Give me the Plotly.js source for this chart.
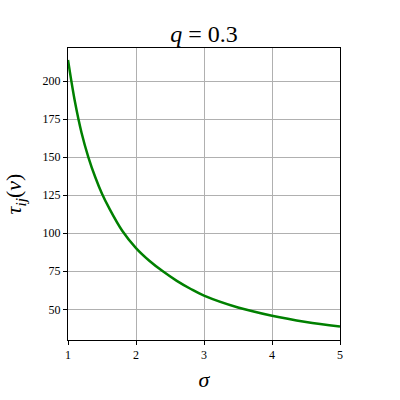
<!DOCTYPE html>
<html>
<head>
<meta charset="utf-8">
<script src="https://cdn.plot.ly/plotly-3.0.1.min.js"></script>
<style>
  body { margin: 0; background: #fff; }
  #plot { width: 400px; height: 400px; }
</style>
</head>
<body>
<div id="plot"></div>
<script>
// values
let sigma = [1.0, 1.1, 1.2, 1.3, 1.4, 1.5, 1.6, 1.8, 2.0, 2.2, 2.4, 2.6, 2.8, 3.0, 3.5, 4.0, 4.5, 5.0];
let tau = [214, 187, 166, 150, 137, 126, 117, 101.5, 90.3, 81.8, 74.8, 68.7, 63.5, 59, 51.2, 45.8, 41.7, 38.6];

let xTicks = [1, 2, 3, 4, 5];
let yTicks = [50, 75, 100, 125, 150, 175, 200];

let serif = "Liberation Serif, DejaVu Serif, serif";

function axis(ticks, range, title, standoff) {
  return {
    range: range,
    tickvals: ticks,
    ticktext: ticks.map(String),
    ticks: "outside",
    ticklen: 4,
    tickcolor: "#000",
    showline: true,
    linecolor: "#000",
    linewidth: 1,
    mirror: true,
    showgrid: true,
    gridcolor: "#b0b0b0",
    gridwidth: 1,
    zeroline: false,
    tickfont: { family: serif, size: 12, color: "#000" },
    title: { text: title, font: { family: serif, size: 22, color: "#000" }, standoff: standoff }
  };
}

Plotly.newPlot(
  "plot",
  [
    {
      x: sigma,
      y: tau,
      mode: "lines",
      line: { color: "#008000", width: 2.5, shape: "spline", smoothing: 1 },
      showlegend: false
    }
  ],
  {
    width: 400,
    height: 400,
    margin: { l: 68, r: 60, t: 48, b: 60 },
    paper_bgcolor: "#fff",
    plot_bgcolor: "#fff",
    title: {
      text: "<i>q</i> = 0.3",
      font: { family: serif, size: 24, color: "#000" },
      x: 0.51,
      xanchor: "center",
      y: 0.917,
      yanchor: "middle"
    },
    xaxis: axis(xTicks, [1, 5], "<i>σ</i>", 10),
    yaxis: axis(yTicks, [29.8, 221.9], "<i>τ<sub>ij</sub></i>(<i>ν</i>)", 14)
  },
  { staticPlot: true }
);
</script>
</body>
</html>
